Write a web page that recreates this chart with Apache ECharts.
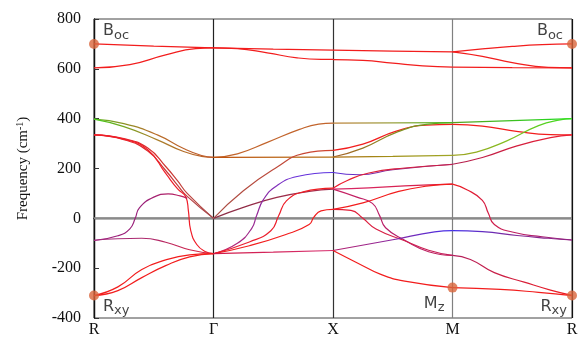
<!DOCTYPE html>
<html>
<head>
<meta charset="utf-8">
<script src="https://cdn.jsdelivr.net/npm/echarts@6/dist/echarts.min.js"></script>
<style>
  html, body { margin: 0; padding: 0; background: #fff; }
  #chart { width: 581px; height: 338px; }
</style>
</head>
<body>
<div id="chart"></div>
<script>
// high-symmetry path, x = 0..4
var kLabels = ['R', 'Γ', 'X', 'M', 'R'];
var yTicks = [-400, -200, 0, 200, 400, 600, 800];

// R -> Γ
var rgTop1 = [[0,700],[0.5,691],[1,684]];
var rgTop2 = [[0,604],[0.3,617],[0.6,656],[0.85,681],[1,684]];
var rgBrownA = [[0,398],[0.25,380],[0.53,335],[0.75,280],[0.9,252],[1,245]];
var rgBrownB = [[0,398],[0.25,368],[0.53,315],[0.75,268],[0.9,249],[1,245]];
var rgRedA = [[0,335],[0.25,320],[0.45,282],[0.6,208],[0.7,150],[0.78,100],[1,0]];
var rgRedB = [[0,335],[0.25,316],[0.45,270],[0.6,192],[0.7,132],[0.78,88],[1,0]];
var rgRedC = [[0,335],[0.25,318],[0.45,275],[0.6,180],[0.7,118],[0.77,85],[0.79,30],[0.81,-50],[0.86,-105],[0.93,-133],[1,-142]];
var rgHump = [[0,-89],[0.2,-70],[0.3,-42],[0.345,0],[0.38,42],[0.5,85],[0.62,98],[0.72,90],[0.78,80]];
var rgPurple = [[0,-88],[0.2,-82],[0.4,-80],[0.6,-96],[0.8,-126],[1,-142]];
var rgLowA = [[0,-310],[0.2,-275],[0.4,-205],[0.6,-167],[0.8,-147],[1,-142]];
var rgLowB = [[0,-310],[0.2,-290],[0.4,-238],[0.6,-190],[0.8,-155],[1,-142]];

// Γ -> X
var gxTop1 = [[1,684],[1.5,679],[2,675]];
var gxTop2 = [[1,684],[1.2,681],[1.45,664],[1.7,644],[1.9,638],[2,638]];
var gxBrownTop = [[1,245],[1.2,259],[1.45,305],[1.72,357],[1.88,378],[2,382]];
var gxBrownFlat = [[1,245],[2,246]];
var gxDiag1 = [[1,0],[1.25,111],[1.53,205],[1.75,260],[2,273]];
var gxDiag2 = [[1,0],[1.25,44],[1.53,84],[1.8,108],[2,117]];
var gxBlue = [[1,-142],[1.2,-100],[1.32,-40],[1.36,10],[1.42,77],[1.53,131],[1.7,168],[2,184]];
var gxRed1 = [[1,-142],[1.3,-95],[1.48,-50],[1.545,10],[1.61,70],[1.75,106],[2,121]];
var gxRed2 = [[1,-142],[1.3,-110],[1.6,-66],[1.8,-25],[1.84,5],[1.9,30],[2,36]];
var gxFlat = [[1,-142],[1.5,-136],[2,-129]];

// X -> M
var xmTop1 = [[2,675],[2.5,671],[3,668]];
var xmTop2 = [[2,637],[2.25,634],[2.5,623],[2.75,612],[3,607]];
var xmBrownTop = [[2,382],[2.5,383],[3,384]];
var xmRiseRed = [[2,273],[2.25,298],[2.53,350],[2.78,374],[3,377]];
var xmRiseBrown = [[2,246],[2.25,282],[2.53,345],[2.78,377],[3,384]];
var xmFlat = [[2,246],[2.5,249],[3,253]];
var xmBlue = [[2,184],[2.22,175],[2.5,195],[3,217]];
var xmRedUp = [[2,121],[2.12,152],[2.3,182],[2.6,202],[3,216]];
var xmPink = [[2,117],[2.3,122],[2.6,130],[3,137]];
var xmDown1 = [[2,117],[2.2,85],[2.33,60],[2.39,11],[2.44,-38],[2.6,-88],[2.8,-134],[3,-149]];
var xmUp36 = [[2,36],[2.25,62],[2.55,108],[2.8,130],[3,137]];
var xmDown36 = [[2,36],[2.15,32],[2.25,0],[2.36,-43],[2.6,-90],[2.8,-128],[3,-149]];
var xmPurpleBlue = [[2,-129],[2.5,-86],[2.85,-54],[3,-49]];
var xmRedLow = [[2,-129],[2.2,-178],[2.4,-225],[2.6,-252],[3,-278]];

// M -> R
var mrTop1 = [[3,668],[3.25,680],[3.5,690],[3.75,697],[4,700]];
var mrTop2 = [[3,668],[3.25,650],[3.5,625],[3.8,606],[4,604]];
var mrTop3 = [[3,607],[3.5,605],[4,604]];
var mrGreen = [[3,384],[3.5,392],[4,400]];
var mrRed377 = [[3,377],[3.25,370],[3.55,348],[3.82,336],[4,335]];
var mrOlive = [[3,253],[3.2,266],[3.45,310],[3.72,372],[3.9,395],[4,400]];
var mrRedPurple = [[3,217],[3.25,244],[3.54,291],[3.82,324],[4,335]];
var mrRed137 = [[3,137],[3.12,115],[3.25,72],[3.3,20],[3.35,-25],[3.5,-55],[3.75,-74],[4,-87]];
var mrBlue = [[3,-49],[3.25,-53],[3.54,-69],[3.8,-80],[4,-87]];
var mrPurpleLow = [[3,-149],[3.15,-165],[3.35,-218],[3.6,-256],[3.82,-288],[4,-309]];
var mrRedLow = [[3,-278],[3.4,-285],[3.72,-297],[4,-310]];

// marked modes
var markPts = [[0,700],[4,700],[0,-310],[3,-278],[4,-310]];
var markNames = ['Boc','Boc','Rxy','Mz','Rxy'];

var RED = '#f21d1d';
var bands = [
  [rgTop1, RED], [rgTop2, RED],
  [rgBrownA, ['#5cb81e','#b8702c','#c2562a']],
  [rgBrownB, ['#3fcf1a','#a8802a','#c05a28']],
  [rgRedA, ['#ee1e28','#d8302e','#a85048']],
  [rgRedB, ['#ee1e28','#d8302e','#a04a50']],
  [rgRedC, ['#ee1e28','#f01e2a']],
  [rgHump, ['#a0207a','#98207a','#c0205a']],
  [rgPurple, ['#a02a80','#b02a6a','#e0203a']],
  [rgLowA, RED], [rgLowB, RED],
  [gxTop1, RED], [gxTop2, RED],
  [gxBrownTop, '#c2642c'],
  [gxBrownFlat, ['#c0500e','#b47418']],
  [gxDiag1, ['#a85048','#d2442e']],
  [gxDiag2, ['#8a3048','#a8284a']],
  [gxBlue, ['#d0205a','#9a2a90','#6a30d8','#5530e0']],
  [gxRed1, ['#e6203a','#f21d1d']],
  [gxRed2, RED],
  [gxFlat, ['#d01a48','#d83070']],
  [xmTop1, RED], [xmTop2, RED],
  [xmBrownTop, ['#c0803a','#9aa040','#40c020']],
  [xmRiseRed, RED],
  [xmRiseBrown, ['#a8602a','#8a8a20','#48b81e']],
  [xmFlat, ['#b06c10','#a09018','#a0a828']],
  [xmBlue, ['#5530e0','#8a2a90','#b02060']],
  [xmRedUp, ['#f21d2a','#c02050']],
  [xmPink, ['#d8286a','#d81e40']],
  [xmDown1, ['#c82060','#b8206a','#c0205a']],
  [xmUp36, RED],
  [xmDown36, ['#e81e30','#c02060']],
  [xmPurpleBlue, ['#b8206a','#8a28a0','#4030f0']],
  [xmRedLow, RED],
  [mrTop1, RED], [mrTop2, RED], [mrTop3, RED],
  [mrGreen, ['#58a020','#20e020']],
  [mrRed377, RED],
  [mrOlive, ['#a0a020','#80c020','#30e020']],
  [mrRedPurple, ['#b02050','#f01e30']],
  [mrRed137, ['#f21d1d','#c01e60','#902080']],
  [mrBlue, ['#4030f0','#802a98','#902080']],
  [mrPurpleLow, ['#b02060','#f21d1d']],
  [mrRedLow, RED]
];

function lineColor(c) {
  if (!Array.isArray(c)) return c;
  return new echarts.graphic.LinearGradient(0, 0, 1, 0, c.map(function (col, i) {
    return { offset: i / (c.length - 1), color: col };
  }));
}

var series = [{
  type: 'line',
  data: [[0, 0], [4, 0]],
  showSymbol: false,
  silent: true,
  z: 1,
  lineStyle: { color: '#8a8a8a', width: 2 }
}];

bands.forEach(function (b) {
  series.push({
    type: 'line',
    data: b[0],
    showSymbol: false,
    smooth: 0.5,
    silent: true,
    z: 3,
    lineStyle: { color: lineColor(b[1]), width: 1.2 }
  });
});

var labelCfg = [
  { align: 'left', offset: [9, -13] },
  { align: 'right', offset: [-9, -13] },
  { align: 'left', offset: [9, 11] },
  { align: 'right', offset: [-8, 16] },
  { align: 'right', offset: [-5, 11] }
];

series.push({
  type: 'scatter',
  symbolSize: 10,
  z: 5,
  silent: true,
  itemStyle: { color: '#d9653b' },
  data: markPts.map(function (p, i) {
    var n = markNames[i];
    return {
      value: p,
      label: {
        show: true,
        position: 'inside',
        align: labelCfg[i].align,
        verticalAlign: 'middle',
        offset: labelCfg[i].offset,
        formatter: '{b|' + n.charAt(0) + '}{s|' + n.slice(1) + '}',
        rich: {
          b: { fontFamily: 'DejaVu Sans', fontSize: 16, color: '#111' },
          s: { fontFamily: 'DejaVu Sans', fontSize: 13, color: '#111', padding: [9, 0, 0, 0] }
        }
      }
    };
  })
});

var chart = echarts.init(document.getElementById('chart'), null, { renderer: 'canvas' });
chart.setOption({
  animation: false,
  grid: {
    left: 94, right: 9, top: 19, bottom: 20,
    show: true, borderColor: '#444', borderWidth: 1
  },
  xAxis: {
    type: 'value',
    min: 0, max: 4, interval: 1,
    axisLine: { show: true, lineStyle: { color: '#111', width: 1.3 } },
    axisTick: { show: false },
    axisLabel: {
      showMinLabel: true, showMaxLabel: true,
      margin: 4,
      fontFamily: 'Liberation Serif', fontSize: 16, color: '#111',
      formatter: function (v) { return kLabels[Math.round(v)]; }
    },
    splitLine: { show: true, lineStyle: { color: ['#111', '#222', '#333', '#808080', '#111'], width: 1.2 } }
  },
  yAxis: {
    type: 'value',
    min: yTicks[0], max: yTicks[yTicks.length - 1], interval: 200,
    name: '{a|Frequency (cm}{s|-1}{a|)}',
    nameLocation: 'middle',
    nameGap: 62,
    nameTextStyle: {
      rich: {
        a: { fontFamily: 'Liberation Serif', fontSize: 15, color: '#111' },
        s: { fontFamily: 'Liberation Serif', fontSize: 10, color: '#111', padding: [0, 0, 7, 0] }
      }
    },
    axisLine: { show: true, lineStyle: { color: '#111', width: 1.3 } },
    axisTick: { show: true, inside: true, length: 5, lineStyle: { color: '#333' } },
    axisLabel: { margin: 13, fontFamily: 'Liberation Serif', fontSize: 16, color: '#111' },
    splitLine: { show: false }
  },
  series: series
});
</script>
</body>
</html>
